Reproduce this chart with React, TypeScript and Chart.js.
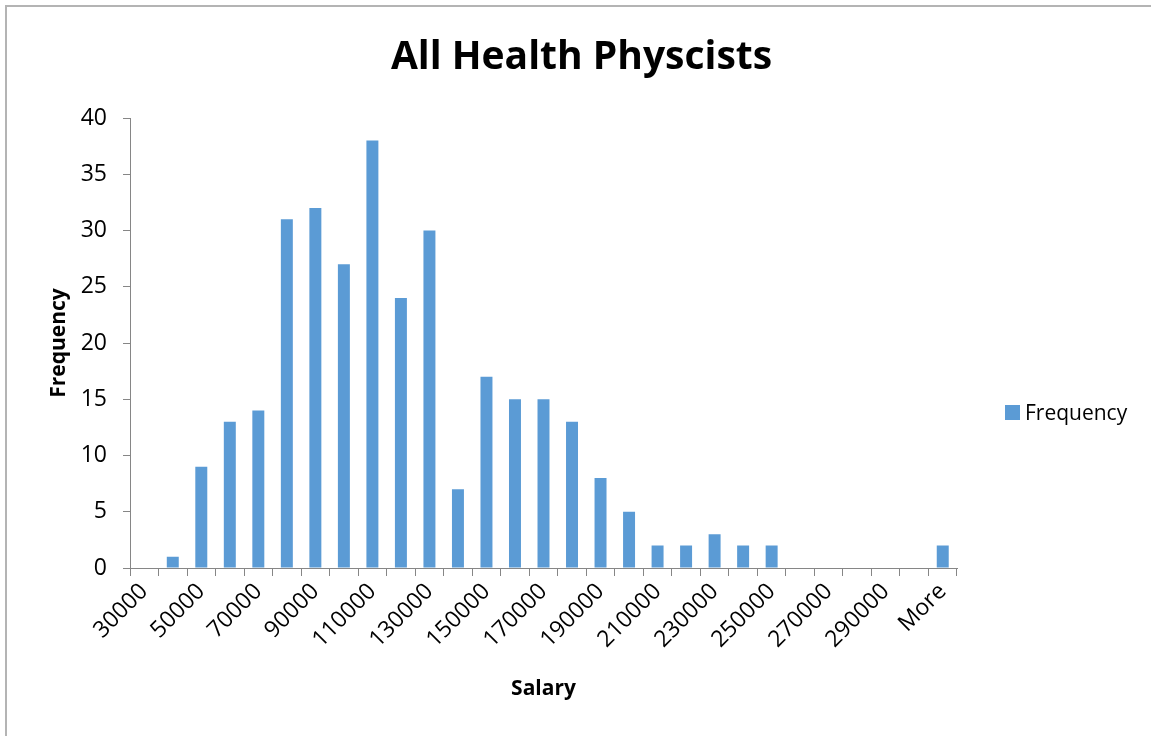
import React, { useEffect, useRef } from "react";
import { Chart, registerables } from "chart.js";

Chart.register(...registerables);

const chartTitle = "All Health Physcists";
const xAxisTitle = "Salary";
const yAxisTitle = "Frequency";
const seriesLabel = "Frequency";

const categories = [
  "30000", "40000", "50000", "60000", "70000", "80000", "90000", "100000",
  "110000", "120000", "130000", "140000", "150000", "160000", "170000",
  "180000", "190000", "200000", "210000", "220000", "230000", "240000",
  "250000", "260000", "270000", "280000", "290000", "300000", "More",
];

const frequency = [
  0, 1, 9, 13, 14, 31, 32, 27, 38, 24, 30, 7, 17, 15, 15,
  13, 8, 5, 2, 2, 3, 2, 2, 0, 0, 0, 0, 0, 2,
];

const yMin = 0;
const yMax = 40;
const yStep = 5;

const barColor = "#5b9bd5";
const axisColor = "#868686";
const FONT = "'Open Sans', 'DejaVu Sans', sans-serif";

export default function App() {
  const canvasRef = useRef<HTMLCanvasElement | null>(null);

  useEffect(() => {
    const canvas = canvasRef.current;
    if (!canvas) return;
    const chart = new Chart(canvas, {
      type: "bar",
      data: {
        labels: categories,
        datasets: [
          {
            label: seriesLabel,
            data: frequency,
            backgroundColor: barColor,
            borderWidth: 0,
            categoryPercentage: 1,
            barPercentage: 0.42,
            yAxisID: "y",
          },
        ],
      },
      options: {
        animation: false,
        responsive: false,
        devicePixelRatio: 1,
        layout: { padding: { top: 0, right: 0, bottom: 0, left: 12 } },
        plugins: {
          legend: { display: false },
          tooltip: { enabled: false },
          title: {
            display: true,
            text: chartTitle,
            color: "#000",
            font: { family: FONT, size: 39, weight: "bold" },
            padding: { top: 34, bottom: 37.2 },
          },
        },
        scales: {
          x: {
            offset: true,
            grid: {
              display: true,
              offset: true,
              drawOnChartArea: false,
              drawTicks: true,
              tickLength: 8,
              color: axisColor,
            },
            border: { display: true, color: axisColor, width: 1 },
            ticks: {
              autoSkip: false,
              minRotation: 45,
              maxRotation: 45,
              color: "#000",
              padding: 2,
              font: { family: FONT, size: 23 },
              callback: (_v: any, i: number) => (i % 2 === 0 ? categories[i] : ""),
            },
            title: {
              display: true,
              text: xAxisTitle,
              color: "#000",
              font: { family: FONT, size: 21, weight: "bold" },
              padding: { top: 0, bottom: 34 },
            },
            afterFit: (scale: any) => {
              scale.height = 168;
            },
          },
          y: {
            min: yMin,
            max: yMax,
            grid: {
              display: true,
              drawOnChartArea: false,
              drawTicks: true,
              tickLength: 7,
              color: axisColor,
            },
            border: { display: true, color: axisColor, width: 1 },
            ticks: {
              stepSize: yStep,
              color: "#000",
              padding: 16,
              font: { family: FONT, size: 23 },
            },
            title: {
              display: true,
              text: yAxisTitle,
              color: "#000",
              font: { family: FONT, size: 21, weight: "bold" },
              padding: { top: 34, bottom: 0 },
            },
            afterFit: (scale: any) => {
              scale.width = 118;
            },
          },
          legendSpace: {
            type: "linear",
            position: "right",
            display: true,
            grid: { display: false, drawTicks: false },
            border: { display: false },
            ticks: { display: false },
            afterFit: (scale: any) => {
              scale.width = 194;
            },
          },
        },
      } as any,
    });
    return () => chart.destroy();
  }, []);

  return (
    <div
      style={{
        position: "fixed",
        left: 0,
        top: 0,
        width: 1151,
        height: 736,
        overflow: "hidden",
        background: "#fff",
      }}
    >
      <div
        style={{
          position: "absolute",
          left: 5,
          top: 5,
          width: 1200,
          height: 800,
          borderLeft: "2px solid #b4b4b4",
          borderTop: "2px solid #b4b4b4",
        }}
      />
      <canvas
        ref={canvasRef}
        width={1151}
        height={736}
        style={{ position: "absolute", left: 0, top: 0, width: 1151, height: 736 }}
      />
      <div
        style={{
          position: "absolute",
          left: 1005,
          top: 397,
          height: 30,
          display: "flex",
          alignItems: "center",
          fontFamily: FONT,
          fontSize: 21,
          color: "#000",
          whiteSpace: "nowrap",
        }}
      >
        <span
          style={{
            display: "inline-block",
            width: 15,
            height: 15,
            background: barColor,
            marginRight: 5,
          }}
        />
        <span>{seriesLabel}</span>
      </div>
    </div>
  );
}
